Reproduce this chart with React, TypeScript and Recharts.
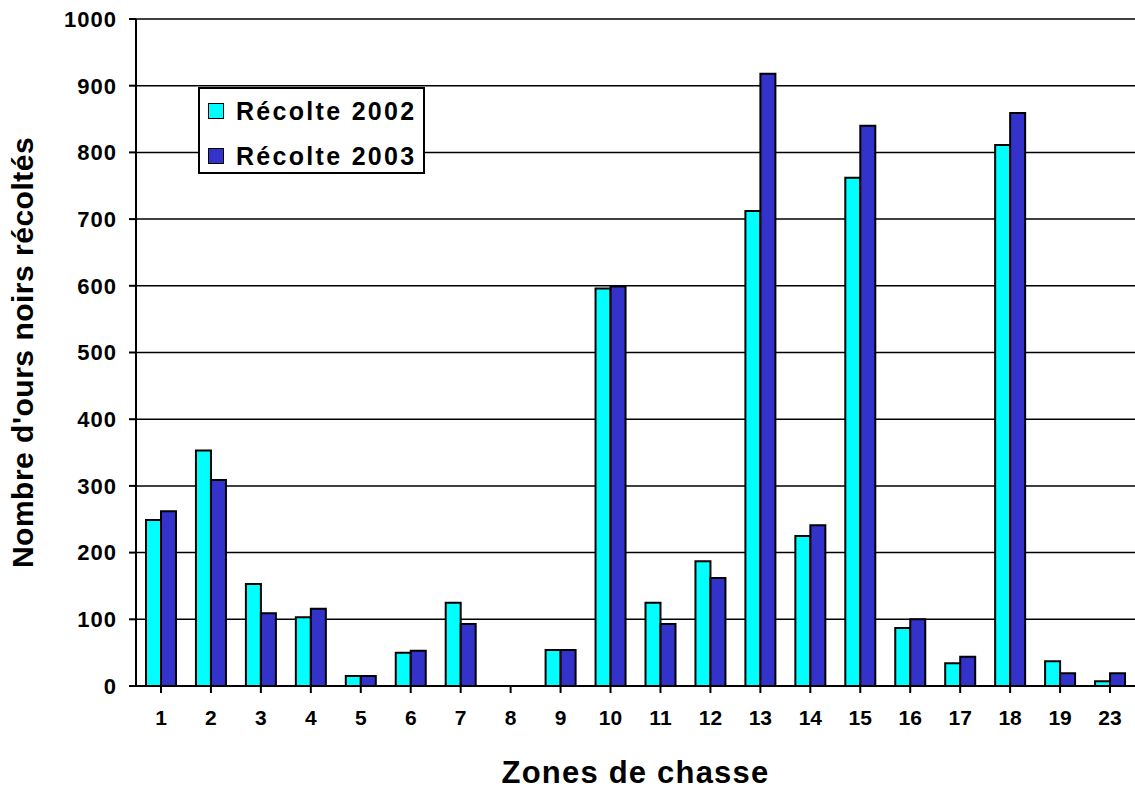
import React from 'react';
import {
  BarChart,
  Bar,
  XAxis,
  YAxis,
  CartesianGrid,
  Legend,
  Label,
} from 'recharts';

const zones = ['1', '2', '3', '4', '5', '6', '7', '8', '9', '10', '11', '12', '13', '14', '15', '16', '17', '18', '19', '23'];
const recolte2002 = [249, 353, 153, 103, 15, 50, 125, 0, 54, 596, 125, 187, 712, 225, 762, 87, 34, 811, 37, 7];
const recolte2003 = [262, 309, 109, 116, 15, 53, 93, 0, 54, 599, 93, 162, 918, 241, 840, 100, 44, 859, 19, 19];
const yTicks = [0, 100, 200, 300, 400, 500, 600, 700, 800, 900, 1000];

const series = [
  { key: 'r2002', name: 'Récolte 2002', color: '#00FFFF' },
  { key: 'r2003', name: 'Récolte 2003', color: '#3333CC' },
];

const data = zones.map((zone, i) => ({
  zone,
  r2002: recolte2002[i],
  r2003: recolte2003[i],
}));

const FONT = '"Liberation Sans", Arial, sans-serif';

function LegendBox() {
  return (
    <div
      style={{
        width: 227,
        height: 87,
        boxSizing: 'border-box',
        border: '2px solid #000',
        background: '#fff',
        position: 'relative',
        fontFamily: FONT,
      }}
    >
      {series.map((s, i) => (
        <div
          key={s.key}
          style={{
            position: 'absolute',
            left: 8,
            top: 7 + i * 45,
            height: 30,
            display: 'flex',
            alignItems: 'center',
          }}
        >
          <span
            style={{
              display: 'inline-block',
              width: 16,
              height: 16,
              boxSizing: 'border-box',
              border: '1.5px solid #000',
              background: s.color,
              marginRight: 12,
            }}
          />
          <span style={{ fontSize: 25, fontWeight: 'bold', letterSpacing: 2.3, color: '#000', whiteSpace: 'nowrap' }}>
            {s.name}
          </span>
        </div>
      ))}
    </div>
  );
}

export default function App() {
  return (
    <div style={{ position: 'absolute', left: 0, top: 0, width: 1135, height: 789, background: '#fff' }}>
      <BarChart
        width={1135}
        height={789}
        data={data}
        margin={{ top: 19, right: 0, left: 0, bottom: 0 }}
        barSize={15}
        barGap={0}
      >
        <CartesianGrid vertical={false} stroke="#000" strokeWidth={1.5} />
        <XAxis
          dataKey="zone"
          interval={0}
          height={103}
          tickSize={7}
          tickMargin={17}
          axisLine={{ stroke: '#000', strokeWidth: 2 }}
          tickLine={{ stroke: '#000', strokeWidth: 2 }}
          tick={{ fill: '#000', fontSize: 21, fontWeight: 'bold', fontFamily: FONT }}
        >
          <Label
            content={({ viewBox }: any) => (
              <text
                x={viewBox.x + viewBox.width / 2}
                y={772}
                textAnchor="middle"
                dominantBaseline="central"
                fontFamily={FONT}
                fontWeight="bold"
                fontSize={31}
                letterSpacing={1.2}
                fill="#000"
              >
                Zones de chasse
              </text>
            )}
          />
        </XAxis>
        <YAxis
          domain={[0, 1000]}
          ticks={yTicks}
          width={136}
          tickSize={7}
          tickMargin={12}
          axisLine={{ stroke: '#000', strokeWidth: 2 }}
          tickLine={{ stroke: '#000', strokeWidth: 2 }}
          tick={{ fill: '#000', fontSize: 22, fontWeight: 'bold', fontFamily: FONT, letterSpacing: 1 }}
        >
          <Label
            content={({ viewBox }: any) => {
              const cx = 22;
              const cy = viewBox.y + viewBox.height / 2;
              return (
                <text
                  x={cx}
                  y={cy}
                  transform={`rotate(-90 ${cx} ${cy})`}
                  textAnchor="middle"
                  dominantBaseline="central"
                  fontFamily={FONT}
                  fontWeight="bold"
                  fontSize={30}
                  letterSpacing={0.5}
                  fill="#000"
                >
                  Nombre d'ours noirs récoltés
                </text>
              );
            }}
          />
        </YAxis>
        <Legend
          layout="vertical"
          align="center"
          verticalAlign="middle"
          wrapperStyle={{ position: 'absolute', left: 198, top: 87, width: 227, height: 87 }}
          content={() => <LegendBox />}
        />
        {series.map((s) => (
          <Bar
            key={s.key}
            dataKey={s.key}
            name={s.name}
            fill={s.color}
            stroke="#000"
            strokeWidth={2}
            isAnimationActive={false}
          />
        ))}
      </BarChart>
    </div>
  );
}
